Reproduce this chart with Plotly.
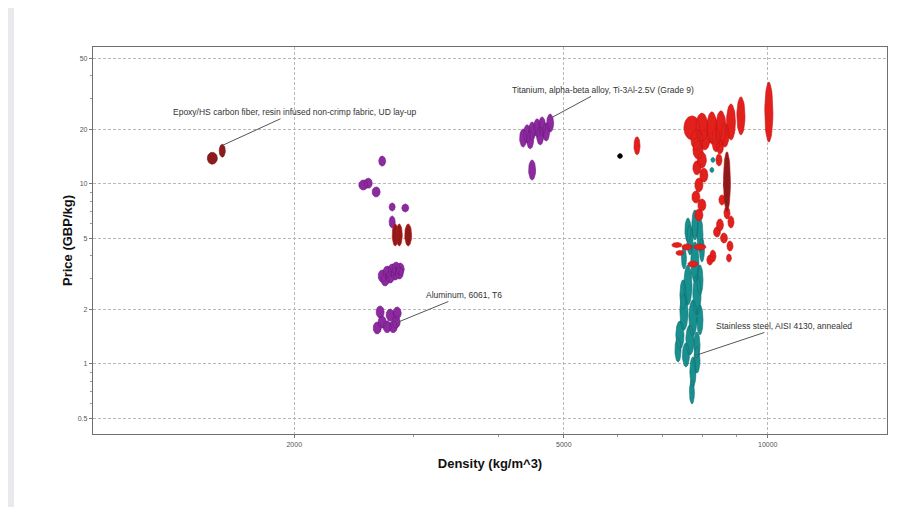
import numpy as np
import plotly.graph_objects as go

# ---------------- data (centre density kg/m^3, centre price GBP/kg, hi/lo range ratios) -------------
# Epoxy/HS carbon fiber composites (dark red)
epoxy_density = [1514, 1566]
epoxy_price = [13.9, 15.3]
epoxy_density_ratio = [1.035, 1.021]
epoxy_price_ratio = [1.166, 1.18]

# Aluminium alloys (purple)
alu_density = [2697, 2529, 2572, 2642, 2790, 2917, 2790,
               2697, 2743, 2790, 2828, 2867, 2724, 2771, 2819, 2858,
               2678, 2771, 2838, 2652, 2743, 2800, 2697, 2828]
alu_price = [13.4, 9.87, 10.1, 9.03, 7.45, 7.36, 6.15,
             3.08, 3.24, 3.33, 3.41, 3.37, 2.93, 3.04, 3.16, 3.20,
             1.945, 1.87, 1.92, 1.585, 1.61, 1.61, 1.71, 1.71]
alu_density_ratio = [1.024, 1.031, 1.028, 1.028, 1.021, 1.024, 1.021,
                     1.028, 1.028, 1.028, 1.028, 1.028, 1.028, 1.028, 1.028, 1.028,
                     1.028, 1.028, 1.028, 1.028, 1.028, 1.028, 1.028, 1.028]
alu_price_ratio = [1.137, 1.137, 1.137, 1.137, 1.108, 1.108, 1.166,
                   1.166, 1.166, 1.166, 1.166, 1.166, 1.166, 1.166, 1.166, 1.166,
                   1.166, 1.166, 1.166, 1.166, 1.166, 1.166, 1.166, 1.166]

# Dark red alloys
dark_density = [2819, 2858, 2946, 8705]
dark_price = [5.21, 5.21, 5.21, 10.3]
dark_density_ratio = [1.021, 1.021, 1.024, 1.024]
dark_price_ratio = [1.325, 1.325, 1.325, 2.15]

# Titanium alloys (purple)
ti_density = [4354, 4413, 4489, 4566, 4644, 4773, 4459, 4613, 4708, 4489]
ti_price = [18.0, 19.0, 19.7, 20.5, 21.0, 21.8, 17.6, 18.5, 19.45, 11.96]
ti_density_ratio = [1.024] * 10
ti_price_ratio = [1.259, 1.259, 1.259, 1.259, 1.259, 1.259, 1.259, 1.259, 1.259, 1.292]

# Stainless steels (teal)
ss_density = [7806, 7941, 7676, 7521, 7806, 7624, 7860, 7521, 7754, 7419, 7676, 7860, 7572, 7754, 7728,
              7941, 7497, 7941, 7370, 7860, 7624, 7994]
ss_price = [5.92, 5.21, 4.89, 3.88, 3.69, 2.75, 2.42, 1.945, 1.80, 1.449, 1.36, 1.275, 1.122, 0.903, 0.699,
            2.93, 2.42, 1.76, 1.196, 1.052, 5.55, 4.30]
ss_density_ratio = [1.021, 1.021, 1.021, 1.017, 1.028, 1.028, 1.028, 1.028, 1.028, 1.028, 1.028, 1.021, 1.024, 1.021, 1.017,
                    1.021, 1.021, 1.021, 1.021, 1.021, 1.021, 1.017]
ss_price_ratio = [1.468, 1.545, 1.468, 1.325, 1.668, 1.668, 1.668, 1.585, 1.585, 1.431, 1.468, 1.395, 1.359, 1.468, 1.359,
                  1.468, 1.468, 1.468, 1.359, 1.395, 1.359, 1.359]

# Small stainless points inside the red cloud
ss2_density = [8299, 8270]
ss2_price = [13.6, 11.96]
ss2_density_ratio = [1.014, 1.014]
ss2_price_ratio = [1.066, 1.066]

# Other steels / nickel alloys (red)
red_density = [6412, 10037,
               7728, 7994, 8270, 8529, 8824, 9128, 7860, 8384, 8076, 8645,
               7887, 7994, 7860, 8048, 7913, 7833, 7994, 7913, 8500, 8471,
               8558, 8705, 8824, 8413, 8617, 8795, 8299, 8214, 8764, 8500, 8673,
               7344, 7598, 7941, 7419, 7754]
red_price = [16.3, 25.1,
             20.5, 20.7, 20.5, 20.5, 22.1, 23.9, 17.6, 17.6, 17.6, 18.7,
             15.45, 13.6, 12.3, 11.2, 9.87, 8.47, 7.64, 6.73, 16.05, 13.6,
             8.15, 6.90, 6.15, 5.41, 5.01, 4.52, 3.98, 3.78, 3.88, 5.92, 9.87,
             4.58, 4.47, 4.47, 4.14, 3.59]
red_density_ratio = [1.021, 1.028,
                     1.056, 1.042, 1.035, 1.035, 1.031, 1.028, 1.042, 1.028, 1.035, 1.028,
                     1.035, 1.031, 1.028, 1.028, 1.028, 1.028, 1.028, 1.028, 1.024, 1.021,
                     1.021, 1.021, 1.021, 1.024, 1.024, 1.021, 1.021, 1.021, 1.017, 1.024, 1.017,
                     1.035, 1.035, 1.042, 1.028, 1.035]
red_price_ratio = [1.259, 2.154,
                   1.359, 1.431, 1.506, 1.545, 1.585, 1.626, 1.292, 1.359, 1.292, 1.359,
                   1.259, 1.227, 1.196, 1.196, 1.196, 1.166, 1.166, 1.166, 1.196, 1.166,
                   1.137, 1.166, 1.166, 1.137, 1.137, 1.137, 1.166, 1.137, 1.108, 1.166, 1.137,
                   1.066, 1.080, 1.080, 1.066, 1.080]

# Single black point
blk_density = [6052]
blk_price = [14.3]
blk_density_ratio = [1.017]
blk_price_ratio = [1.066]

x_tick_vals = [2000, 5000, 10000]
x_tick_text = ["2000", "5000", "10000"]
y_tick_vals = [0.5, 1, 2, 5, 10, 20, 50]
y_tick_text = ["0.5", "1", "2", "5", "10", "20", "50"]

labels = [
    ("Epoxy/HS carbon fiber, resin infused non-crimp fabric, UD lay-up", 1568, 16.4, 72, -33),
    ("Titanium, alpha-beta alloy, Ti-3Al-2.5V (Grade 9)", 4820, 23.6, 50, -27),
    ("Aluminum, 6061, T6", 2848, 1.71, 66, -27),
    ("Stainless steel, AISI 4130, annealed", 7860, 1.122, 87, -29),
]


def ellipse_trace(dens, price, dr, pr, fill, line, name):
    xs, ys = [], []
    t = np.linspace(0, 2 * np.pi, 48)
    for d, p, a, b in zip(dens, price, dr, pr):
        lx = np.log10(d) + np.log10(a) / 2 * np.cos(t)
        ly = np.log10(p) + np.log10(b) / 2 * np.sin(t)
        xs += list(10 ** lx) + [None]
        ys += list(10 ** ly) + [None]
    return go.Scatter(x=xs, y=ys, mode="lines", fill="toself", fillcolor=fill,
                      line=dict(color=line, width=0.6), name=name,
                      hoverinfo="skip", showlegend=False)


fig = go.Figure()
fig.add_trace(ellipse_trace(epoxy_density, epoxy_price, epoxy_density_ratio, epoxy_price_ratio,
                            "#8e1b1b", "#6a1010", "Epoxy/HS carbon fiber"))
fig.add_trace(ellipse_trace(alu_density, alu_price, alu_density_ratio, alu_price_ratio,
                            "#8e2aa0", "#6d1a80", "Aluminum"))
fig.add_trace(ellipse_trace(ti_density, ti_price, ti_density_ratio, ti_price_ratio,
                            "#8e2aa0", "#6d1a80", "Titanium"))
fig.add_trace(ellipse_trace(ss_density, ss_price, ss_density_ratio, ss_price_ratio,
                            "#17908f", "#0f6f70", "Stainless steel"))
fig.add_trace(ellipse_trace(red_density, red_price, red_density_ratio, red_price_ratio,
                            "#e3211c", "#c41414", "Steels"))
fig.add_trace(ellipse_trace(ss2_density, ss2_price, ss2_density_ratio, ss2_price_ratio,
                            "#17908f", "#0f6f70", "Stainless steel"))
fig.add_trace(ellipse_trace(dark_density, dark_price, dark_density_ratio, dark_price_ratio,
                            "#8e1b1b", "#c41414", "Dark alloys"))
fig.add_trace(ellipse_trace(blk_density, blk_price, blk_density_ratio, blk_price_ratio,
                            "#000000", "#000000", "Other"))

for text, d, p, ax, ay in labels:
    fig.add_annotation(x=np.log10(d), y=np.log10(p), xref="x", yref="y", text=text,
                       showarrow=True, arrowhead=0, arrowwidth=1, arrowcolor="#555555",
                       ax=ax, ay=ay, font=dict(family="Liberation Sans, Arial", size=8.5, color="#333333"))

# the page body adds an 8px offset, so margins are reduced by 8px on the left/top
W, H = 919, 507
ML, MT = 85, 39
MR = W - (887 - 8)
MB = H - (434 - 8)
PW = W - ML - MR

tickfont = dict(family="Liberation Sans, Arial", size=7, color="#555555")
fig.update_layout(
    width=W, height=H,
    margin=dict(l=ML, r=MR, t=MT, b=MB),
    paper_bgcolor="white", plot_bgcolor="white",
    xaxis=dict(type="log", range=[3.004, 4.176], tickvals=x_tick_vals, ticktext=x_tick_text,
               tickfont=tickfont, ticks="outside", ticklen=3, tickcolor="#777777",
               showline=True, mirror=True, linecolor="#707070", linewidth=1.3,
               showgrid=True, gridcolor="#b8b8b8", griddash="3px,2px", gridwidth=1, zeroline=False,
               minor=dict(ticks="outside", ticklen=2, tickcolor="#999999", dtick="D1", showgrid=False),
               title=dict(text="<b>Density (kg/m^3)</b>", standoff=12,
                          font=dict(family="Liberation Sans, Arial", size=13, color="#111111"))),
    yaxis=dict(type="log", range=[-0.389, 1.761], tickvals=y_tick_vals, ticktext=y_tick_text,
               tickfont=tickfont, ticks="outside", ticklen=3, tickcolor="#777777",
               showline=True, mirror=True, linecolor="#707070", linewidth=1.3,
               showgrid=True, gridcolor="#b8b8b8", griddash="3px,2px", gridwidth=1, zeroline=False,
               minor=dict(ticks="outside", ticklen=2, tickcolor="#999999", dtick="D1", showgrid=False),
               title=dict(text="<b>Price (GBP/kg)</b>", standoff=2,
                          font=dict(family="Liberation Sans, Arial", size=13, color="#111111"))),
    shapes=[
        dict(type="rect", xref="paper", yref="paper", x0=-ML / PW - 0.01, x1=(6 - ML) / PW,
             y0=-0.3, y1=1.2, fillcolor="#e9eaee", line=dict(width=0), layer="above"),
    ],
)

fig.write_html("out.html")
